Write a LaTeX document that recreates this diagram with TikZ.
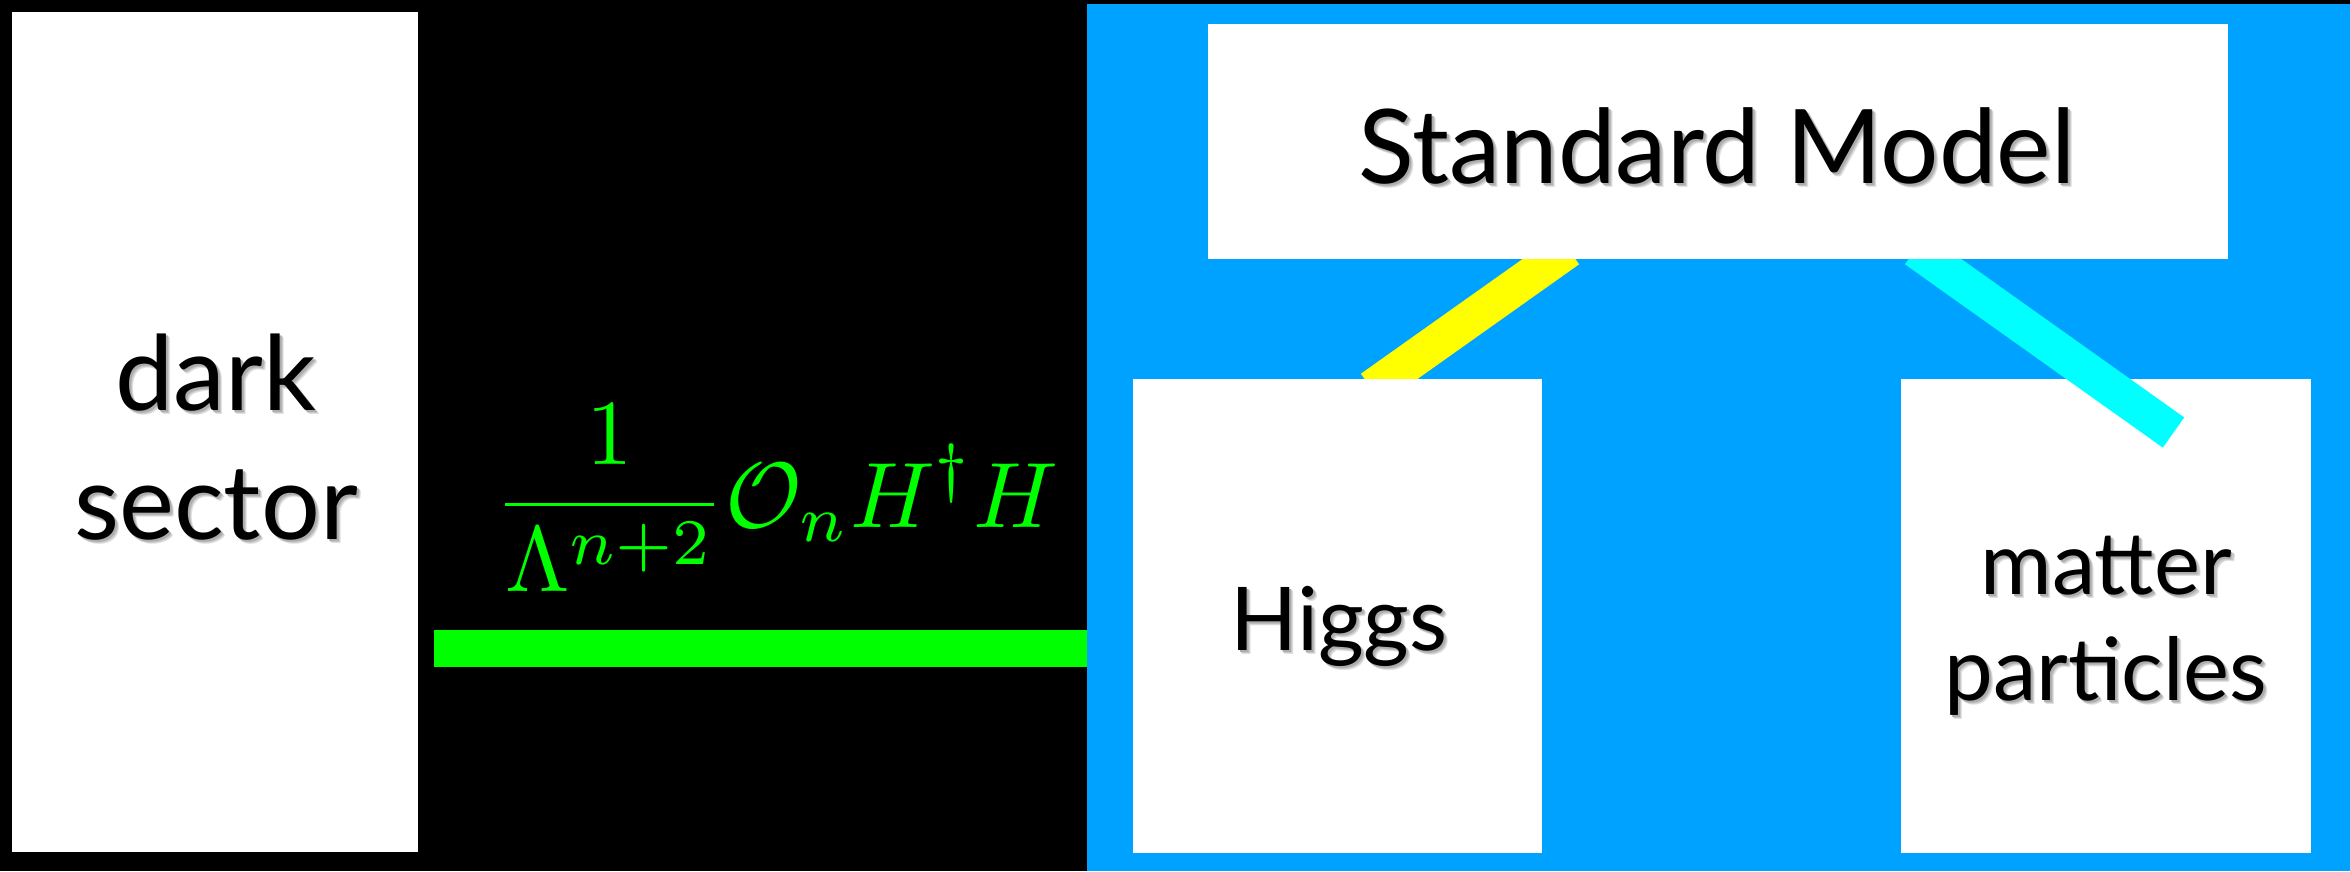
\documentclass[tikz,border=0pt]{standalone}
\usepackage{fontspec}
\setmainfont{Lato}
\usepackage{graphicx}
\usetikzlibrary{calc}
\definecolor{skyblue}{RGB}{0,162,255}
\definecolor{lime}{RGB}{0,255,0}
\definecolor{yel}{RGB}{255,255,0}
\definecolor{cyn}{RGB}{0,255,255}
\newcommand\sh[1]{\leavevmode\rlap{\kern4pt\raisebox{-4pt}{\color{black!12}#1}}\rlap{\kern3pt\raisebox{-3pt}{\color{black!22}#1}}\rlap{\kern2pt\raisebox{-2pt}{\color{black!32}#1}}#1}
\pgfdeclarelayer{bottom}
\pgfdeclarelayer{mid}
\pgfsetlayers{bottom,mid,main}
\begin{document}
\begin{tikzpicture}[x=1pt,y=-1pt,
  box/.style={fill=white,draw=none,inner sep=0pt,outer sep=0pt,anchor=north west},
  lbl/.style={inner sep=0pt,outer sep=0pt,align=center,anchor=base},
  thickbar/.style={line width=37pt,line cap=butt}]
\useasboundingbox (0,0) rectangle (2350,871);
\begin{pgfonlayer}{bottom}
\fill[black] (0,0) rectangle (2350,871);
\node[fill=skyblue,draw=none,inner sep=0pt,outer sep=0pt,anchor=north west,minimum width=1263pt,minimum height=867pt] (smpanel) at (1087,4) {};
\node[box,minimum width=410pt,minimum height=474pt] (matter) at (1901,379) {};
\end{pgfonlayer}
\node[box,minimum width=406pt,minimum height=840pt] (dark) at (12,12) {};
\node[box,minimum width=409pt,minimum height=474pt] (higgs) at (1133,379) {};
\node[box,minimum width=1020pt,minimum height=235pt] (sm) at (1208,24) {};
% connectors
\coordinate (gs) at ($(dark.east)+(16,216.5)$);
\draw[thickbar,lime] (gs) -- (gs -| smpanel.west);
\coordinate (cyanend) at (2173.5,432.5);
\begin{pgfonlayer}{mid}
\draw[thickbar,yel] ($(sm.south west)+(360.4,-9.8)$) -- ($(higgs.north west)+(238.6,9.8)$);
\draw[thickbar,cyn] ($(sm.south west)+(707.6,-9.8)$) -- (cyanend);
\end{pgfonlayer}
% texts
\node[lbl,font=\fontsize{104}{129}\selectfont] (darktxt) at (216,539) {\sh{dark}\\\sh{sector}};
\node[lbl,font=\fontsize{103}{124}\selectfont] (smtxt) at (1717,183) {\sh{Standard Model}};
\node[lbl,font=\fontsize{88}{106}\selectfont] (higgstxt) at (1339,650) {\sh{Higgs}};
\node[lbl,font=\fontsize{87}{106}\selectfont] (mattertxt) at (2106,700) {\sh{matter}\\\sh{particles}};
\node[inner sep=0pt,outer sep=0pt,anchor=north west,text=lime] (coupling) at (494,405) {\resizebox{564pt}{!}{$\displaystyle\frac{1}{\Lambda^{n+2}}\mathcal{O}_nH^{\dagger}H$}};
\end{tikzpicture}
\end{document}
